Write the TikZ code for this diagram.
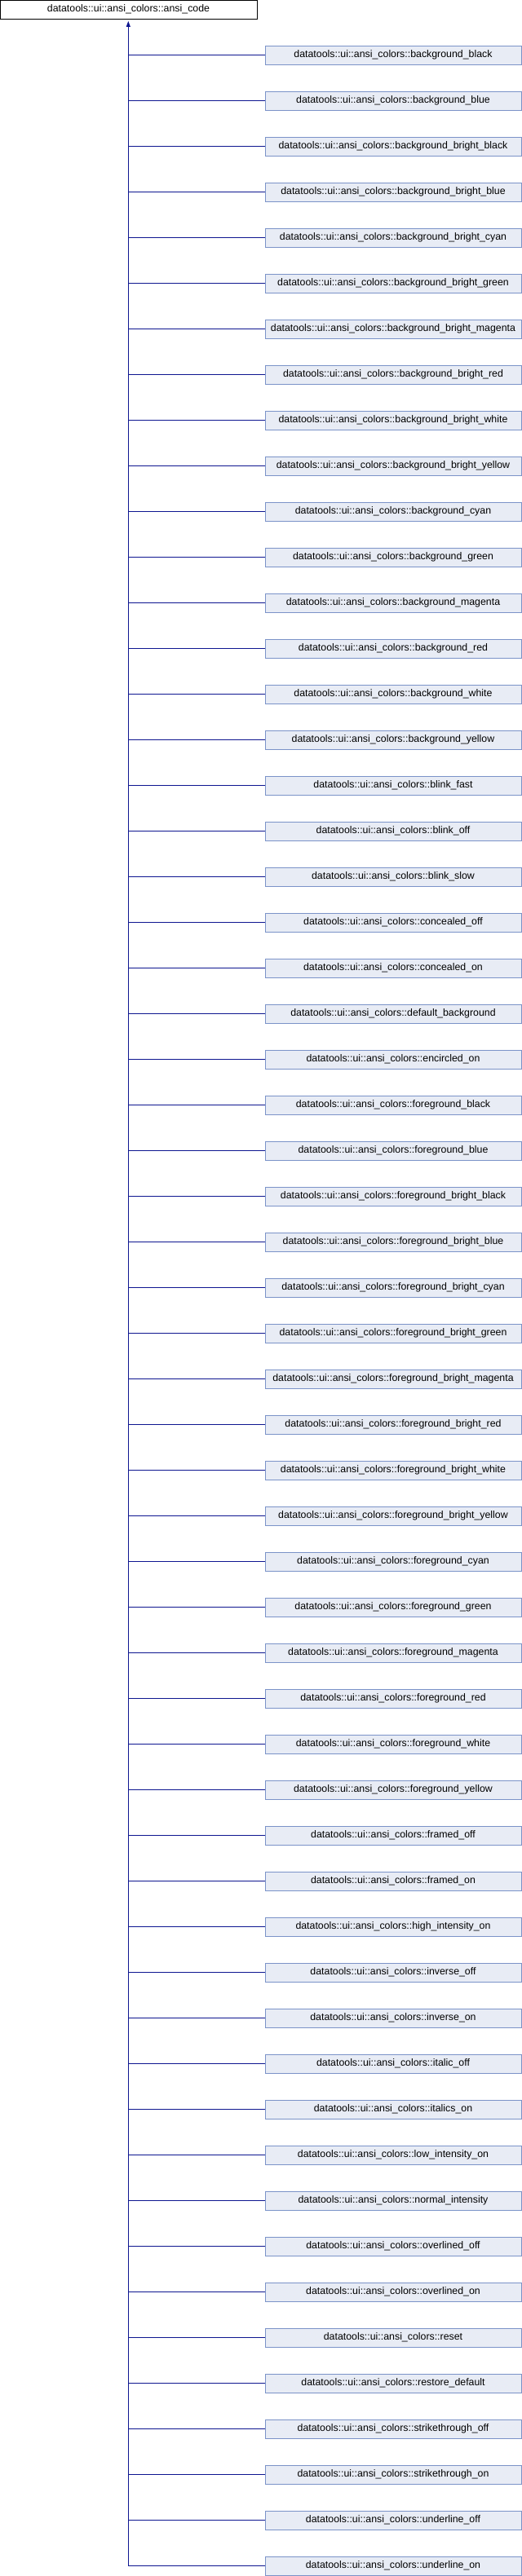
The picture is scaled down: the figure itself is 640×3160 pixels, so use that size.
\documentclass[tikz,border=0pt]{standalone}
\usepackage{fontspec}
\setmainfont{Liberation Sans}
\usetikzlibrary{arrows.meta}
\definecolor{edgeblue}{HTML}{0E1690}
\definecolor{boxfill}{HTML}{E8ECF5}
\definecolor{boxdraw}{HTML}{7B93C8}
\tikzset{
  rootbox/.style={draw=black, fill=white, line width=0.8pt, minimum width=315bp, minimum height=23bp, inner sep=0pt, font=\fontsize{12.4}{14}\selectfont},
  childbox/.style={draw=boxdraw, fill=boxfill, line width=0.8pt, minimum width=314bp, minimum height=23bp, inner sep=0pt, font=\fontsize{12.4}{14}\selectfont},
  inh/.style={draw=edgeblue, line width=0.9pt},
}
\begin{document}
\begin{tikzpicture}[x=1bp,y=-1bp]
\useasboundingbox (0,0) rectangle (640,3160);
\node[rootbox] (root) at (157.5,11.5) {datatools::ui::ansi\_colors::ansi\_code};
\coordinate (trunk) at (157.3,3147.5);
\draw[inh] (trunk) -- ([yshift=-7bp]root.south -| trunk);
\fill[edgeblue] ([yshift=-2.5bp]root.south -| trunk) -- ++(-2.6,7) -- ++(5.2,0) -- cycle;
\foreach [count=\i from 0] \n in {
background\_black, background\_blue, background\_bright\_black, background\_bright\_blue,
background\_bright\_cyan, background\_bright\_green, background\_bright\_magenta, background\_bright\_red,
background\_bright\_white, background\_bright\_yellow, background\_cyan, background\_green,
background\_magenta, background\_red, background\_white, background\_yellow,
blink\_fast, blink\_off, blink\_slow, concealed\_off, concealed\_on, default\_background,
encircled\_on, foreground\_black, foreground\_blue, foreground\_bright\_black,
foreground\_bright\_blue, foreground\_bright\_cyan, foreground\_bright\_green,
foreground\_bright\_magenta, foreground\_bright\_red, foreground\_bright\_white,
foreground\_bright\_yellow, foreground\_cyan, foreground\_green, foreground\_magenta,
foreground\_red, foreground\_white, foreground\_yellow, framed\_off, framed\_on,
high\_intensity\_on, inverse\_off, inverse\_on, italic\_off, italics\_on,
low\_intensity\_on, normal\_intensity, overlined\_off, overlined\_on, reset,
restore\_default, strikethrough\_off, strikethrough\_on, underline\_off, underline\_on}
{
  \node[childbox] (c\i) at (482,67.5+56*\i) {datatools::ui::ansi\_colors::\n};
  \draw[inh] (c\i.west) -- (c\i.west -| trunk);
}
\end{tikzpicture}
\end{document}
